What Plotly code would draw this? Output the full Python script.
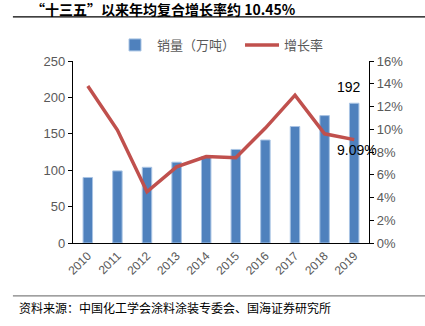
import plotly.graph_objects as go

years = ["2010", "2011", "2012", "2013", "2014", "2015", "2016", "2017", "2018", "2019"]
sales = [90, 99, 104, 111, 118.5, 128.5, 141.5, 160, 175, 192]
growth = [0.138, 0.0993, 0.045, 0.067, 0.076, 0.075, 0.101, 0.130, 0.096, 0.0909]

title_text = "“十三五”以来年均复合增长率约 10.45%"
source_text = "资料来源：中国化工学会涂料涂装专委会、国海证券研究所"

FONT = "Liberation Sans, Noto Sans CJK SC, sans-serif"
CJK = "Noto Sans CJK SC, sans-serif"
GRAY = "#595959"

idx = list(range(len(years)))

fig = go.Figure()
fig.add_trace(go.Bar(
    x=idx, y=sales, name="销量（万吨）",
    marker=dict(color="#4F81BD", line=dict(color="#A9C4E4", width=1)),
    width=0.32, yaxis="y",
))
fig.add_trace(go.Scatter(
    x=idx, y=growth, name="增长率", mode="lines",
    line=dict(color="#C0504D", width=3.5), yaxis="y2",
))

fig.update_layout(
    width=425, height=326,
    margin=dict(l=73, r=56, t=61, b=83),
    paper_bgcolor="white", plot_bgcolor="white",
    font=dict(family=FONT, color=GRAY, size=12),
    showlegend=True,
    legend=dict(orientation="h", x=0.5, xanchor="center", y=1.088, yanchor="middle",
                font=dict(family=CJK, size=13, color=GRAY), itemwidth=34,
                bgcolor="rgba(0,0,0,0)"),
    xaxis=dict(range=[-0.5, len(years) - 0.5], tickvals=idx, ticktext=years,
               showline=True, linecolor="black", linewidth=1.2,
               ticks="", tickangle=-45, tickfont=dict(size=12, color=GRAY),
               showgrid=False, zeroline=False),
    yaxis=dict(range=[0, 250], dtick=50, showline=True, linecolor="black", linewidth=1.2,
               ticks="outside", ticklen=4, tickcolor="black", showgrid=False, zeroline=False,
               tickfont=dict(size=13, color=GRAY)),
    yaxis2=dict(range=[0, 0.16], dtick=0.02, tickformat=".0%", overlaying="y", side="right",
                showline=True, linecolor="black", linewidth=1.2, ticks="outside", ticklen=4,
                tickcolor="black", showgrid=False, zeroline=False,
                tickfont=dict(size=13, color=GRAY)),
)

fig.add_annotation(x=idx[-1], y=sales[-1], xref="x", yref="y", text=str(sales[-1]),
                   showarrow=False, yshift=16, xshift=-5,
                   font=dict(family=FONT, size=14, color="black"))
fig.add_annotation(x=idx[-1], y=growth[-1], xref="x", yref="y2", text=f"{growth[-1]*100:.2f}%",
                   showarrow=False, yshift=-10, xshift=3,
                   font=dict(family=FONT, size=14, color="black"))

fig.add_annotation(xref="paper", yref="paper", x=-0.145, y=1.283, xanchor="left", yanchor="middle",
                   text=f"<b>{title_text}</b>", showarrow=False, borderpad=0,
                   font=dict(family=CJK, size=14, color="black"))
fig.add_annotation(xref="paper", yref="paper", x=-0.19, y=-0.357, xanchor="left", yanchor="middle",
                   text=source_text, showarrow=False,
                   font=dict(family=CJK, size=12, color="black"))

fig.add_shape(type="line", xref="paper", yref="paper", x0=-0.203, x1=1.2, y0=1.242, y1=1.242,
              line=dict(color="black", width=1.2))
fig.add_shape(type="line", xref="paper", yref="paper", x0=-0.203, x1=1.2, y0=-0.291, y1=-0.291,
              line=dict(color="#808080", width=1.2))

fig.write_html("out.html")
